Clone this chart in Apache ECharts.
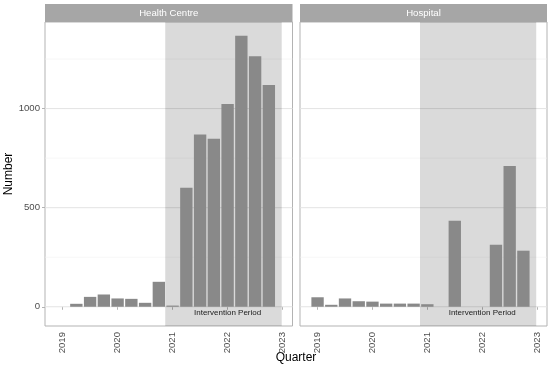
<!DOCTYPE html>
<html>
<head>
<meta charset="utf-8">
<script src="https://cdn.jsdelivr.net/npm/echarts@6/dist/echarts.min.js"></script>
<style>
html,body{margin:0;padding:0;background:#fff;}
#chart{width:550px;height:368px;}
</style>
</head>
<body>
<div id="chart"></div>
<script>
// ---- data ----
const quarters = [2019.0, 2019.25, 2019.5, 2019.75, 2020.0, 2020.25, 2020.5, 2020.75,
                  2021.0, 2021.25, 2021.5, 2021.75, 2022.0, 2022.25, 2022.5, 2022.75];
const healthCentre = [null, 15, 50, 62, 42, 40, 20, 126, 6, 601, 869, 848, 1023, 1367, 1264, 1119];
const hospital     = [48, 10, 42, 28, 26, 16, 16, 16, 13, null, 434, null, null, 313, 710, 283];
const panels = ['Health Centre', 'Hospital'];
const interventionPeriod = [2020.866, 2022.984];
const interventionLabel = 'Intervention Period';
const xTicks = [2019, 2020, 2021, 2022, 2023];
const yTicks = [0, 500, 1000];
const yMinorTicks = [250, 750, 1250];

// ---- styling constants ----
const FONT = '"Liberation Sans", Arial, sans-serif';
const X_MIN = 2018.68, X_MAX = 2023.18;
const Y_MIN = -97, Y_MAX = 1437;
const BAR_HALF = 0.1125;
const grids = [
  {left: 45, top: 22, width: 247.5, height: 304},
  {left: 300, top: 22, width: 247, height: 304}
];

function pairs(vals) {
  const out = [];
  vals.forEach((v, i) => { if (v !== null) out.push([quarters[i], v]); });
  return out;
}
const seriesData = [pairs(healthCentre), pairs(hospital)];

function renderBar(params, api) {
  const x = api.value(0), y = api.value(1);
  const p0 = api.coord([x - BAR_HALF, y]);
  const p1 = api.coord([x + BAR_HALF, 0]);
  return {type: 'rect', shape: {x: p0[0], y: p0[1], width: p1[0] - p0[0], height: p1[1] - p0[1]},
          style: {fill: '#898989'}};
}
function renderShade(params, api) {
  const cs = params.coordSys;
  const a = api.coord([api.value(0), 0]);
  const b = api.coord([api.value(1), 0]);
  return {type: 'rect', shape: {x: a[0], y: cs.y, width: b[0] - a[0], height: cs.height},
          style: {fill: 'rgba(0,0,0,0.145)'}};
}
function makeGridRenderer(color, width) {
  return function (params, api) {
    const cs = params.coordSys;
    const p = api.coord([X_MIN, api.value(0)]);
    return {type: 'line', shape: {x1: cs.x, y1: p[1], x2: cs.x + cs.width, y2: p[1]},
            style: {stroke: color, lineWidth: width}};
  };
}
function renderLabel(params, api) {
  const p = api.coord([api.value(0), api.value(1)]);
  return {type: 'text', x: p[0], y: p[1],
          style: {text: interventionLabel, fill: '#1a1a1a', font: '8px ' + FONT,
                  align: 'center', verticalAlign: 'middle'}};
}

const xAxes = [], yAxes = [], series = [], graphics = [];
panels.forEach((name, k) => {
  xAxes.push({
    type: 'value', gridIndex: k, min: X_MIN, max: X_MAX,
    axisLine: {show: false},
    axisTick: {show: true, length: 3, lineStyle: {color: '#b3b3b3'}, customValues: xTicks},
    axisLabel: {show: true, rotate: 90, margin: 6, color: '#4d4d4d', fontSize: 9.6, fontFamily: FONT,
                customValues: xTicks, formatter: v => String(v)},
    splitLine: {show: false}
  });
  yAxes.push({
    type: 'value', gridIndex: k, min: Y_MIN, max: Y_MAX,
    axisLine: {show: false},
    axisTick: {show: k === 0, length: 3, lineStyle: {color: '#b3b3b3'}, customValues: yTicks},
    axisLabel: {show: k === 0, margin: 5, color: '#4d4d4d', fontSize: 9.6, fontFamily: FONT,
                customValues: yTicks, formatter: v => String(v)},
    splitLine: {show: false},
    name: k === 0 ? 'Number' : '', nameLocation: 'middle', nameGap: 30,
    nameTextStyle: {color: '#000', fontSize: 12, fontFamily: FONT}
  });
  series.push({type: 'custom', xAxisIndex: k, yAxisIndex: k, z: 1, silent: true,
               data: yMinorTicks.map(v => [v]), encode: {y: 0}, renderItem: makeGridRenderer('#f0f0f0', 0.6)});
  series.push({type: 'custom', xAxisIndex: k, yAxisIndex: k, z: 1, silent: true,
               data: yTicks.map(v => [v]), encode: {y: 0}, renderItem: makeGridRenderer('#e3e3e3', 1)});
  series.push({type: 'custom', xAxisIndex: k, yAxisIndex: k, z: 2, silent: true,
               data: [interventionPeriod], encode: {x: [0, 1]}, renderItem: renderShade});
  series.push({type: 'custom', name: name, xAxisIndex: k, yAxisIndex: k, z: 3,
               data: seriesData[k], encode: {x: 0, y: 1}, renderItem: renderBar});
  series.push({type: 'custom', xAxisIndex: k, yAxisIndex: k, z: 4, silent: true,
               data: [[2022, -32]], encode: {x: 0, y: 1}, renderItem: renderLabel});
  const g = grids[k];
  graphics.push({type: 'rect', left: g.left, top: 4, shape: {width: g.width, height: 18},
                 style: {fill: '#a6a6a6'}, silent: true});
  graphics.push({type: 'text', x: g.left + g.width / 2, y: 13.5,
                 style: {text: name, fill: '#ffffff', font: '9.6px ' + FONT, align: 'center', verticalAlign: 'middle'}});
});
graphics.push({type: 'text', x: 296, y: 358,
               style: {text: 'Quarter', fill: '#000', font: '12px ' + FONT, align: 'center', verticalAlign: 'middle'}});

const chart = echarts.init(document.getElementById('chart'), null, {renderer: 'canvas'});
chart.setOption({
  animation: false,
  backgroundColor: '#ffffff',
  grid: grids.map(g => Object.assign({show: true, borderColor: '#b3b3b3', borderWidth: 1,
                                      backgroundColor: '#fff', containLabel: false}, g)),
  xAxis: xAxes,
  yAxis: yAxes,
  series: series,
  graphic: graphics
});
</script>
</body>
</html>
